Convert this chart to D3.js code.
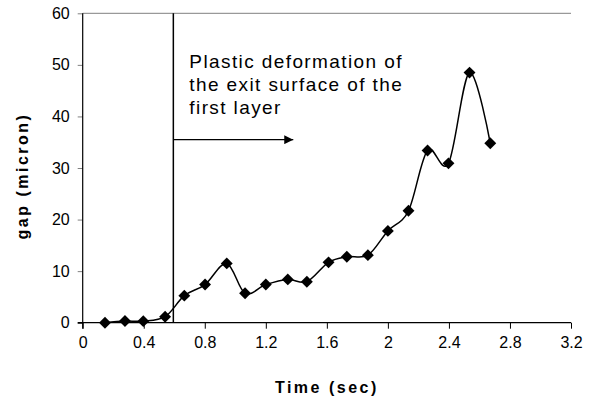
<!DOCTYPE html>
<html>
<head>
<meta charset="utf-8">
<script src="https://cdn.jsdelivr.net/npm/d3@7"></script>
<style>
  html, body { margin: 0; padding: 0; background: #fff; }
  svg { display: block; font-family: Arial, "Liberation Sans", sans-serif; }
</style>
</head>
<body>
<svg id="chart" width="596" height="402"></svg>
<script>
// ---- data ----
const times = [0.146, 0.277, 0.397, 0.540, 0.666, 0.802, 0.944, 1.064, 1.200, 1.344,
               1.469, 1.611, 1.731, 1.869, 2.000, 2.135, 2.260, 2.397, 2.535, 2.671];
const gaps  = [0.0, 0.33, 0.3, 1.16, 5.24, 7.4, 11.5, 5.7, 7.4, 8.4,
               7.95, 11.7, 12.8, 13.1, 17.8, 21.7, 33.4, 30.9, 48.5, 34.8];
const xTicks = [0, 0.4, 0.8, 1.2, 1.6, 2, 2.4, 2.8, 3.2];
const yTicks = [0, 10, 20, 30, 40, 50, 60];
const markerTime = 0.594;
const arrowEndTime = 1.38;
const arrowGap = 35.5;
const annotationLines = ["Plastic deformation of", "the exit surface of the", "first layer"];
const xTitle = "Time (sec)";
const yTitle = "gap (micron)";

// ---- layout ----
const svg = d3.select("#chart");
const x = d3.scaleLinear().domain([0, 3.2]).range([82.7, 571]);
const y = d3.scaleLinear().domain([0, 60]).range([322.7, 13.3]);

// top border (gray)
svg.append("line")
  .attr("x1", x(0)).attr("x2", x(3.2))
  .attr("y1", y(60)).attr("y2", y(60))
  .attr("stroke", "#808080").attr("stroke-width", 1);

// axes
const xAxis = d3.axisBottom(x).tickValues(xTicks).tickSize(6).tickPadding(8)
  .tickFormat(d => String(d));
const yAxis = d3.axisLeft(y).tickValues(yTicks).tickSize(5).tickPadding(8)
  .tickFormat(d => String(d));

const gx = svg.append("g").attr("transform", `translate(0,${y(0)})`).call(xAxis);
const gy = svg.append("g").attr("transform", `translate(${x(0)},0)`).call(yAxis);
[gx, gy].forEach(g => {
  g.select(".domain").remove();
  g.selectAll("line").attr("stroke", "#000");
  g.selectAll("text").attr("fill", "#000").style("font-size", "16px")
    .style("font-family", "Arial, 'Liberation Sans', sans-serif");
});
gy.selectAll("line").attr("stroke", "#808080");
gy.select(".tick:first-of-type line").attr("stroke", "#000");
// axis lines
svg.append("line").attr("x1", x(0) - 5).attr("x2", x(3.2))
  .attr("y1", y(0)).attr("y2", y(0)).attr("stroke", "#000").attr("stroke-width", 1.2);
svg.append("line").attr("x1", x(0)).attr("x2", x(0))
  .attr("y1", y(60)).attr("y2", y(0) + 6).attr("stroke", "#000").attr("stroke-width", 1.2);

// axis titles
svg.append("text")
  .attr("x", (x(0) + x(3.2)) / 2).attr("y", 393)
  .attr("text-anchor", "middle")
  .style("font-size", "16px").style("font-weight", "bold").style("letter-spacing", "2.5px")
  .text(xTitle);
svg.append("text")
  .attr("transform", `translate(28,${(y(0) + y(60)) / 2 + 8}) rotate(-90)`)
  .attr("text-anchor", "middle")
  .style("font-size", "16px").style("font-weight", "bold").style("letter-spacing", "2.5px")
  .text(yTitle);

// vertical marker line
svg.append("line")
  .attr("x1", x(markerTime)).attr("x2", x(markerTime))
  .attr("y1", y(60)).attr("y2", y(0))
  .attr("stroke", "#000").attr("stroke-width", 1.5);

// annotation arrow
const ay = y(arrowGap);
svg.append("defs").append("marker")
  .attr("id", "ah").attr("viewBox", "0 0 10 10").attr("refX", 10).attr("refY", 5)
  .attr("markerWidth", 12).attr("markerHeight", 9).attr("markerUnits", "userSpaceOnUse")
  .attr("orient", "auto")
  .append("path").attr("d", "M0,0 L10,5 L0,10 Z").attr("fill", "#000");
svg.append("line")
  .attr("x1", x(markerTime)).attr("x2", x(arrowEndTime))
  .attr("y1", ay).attr("y2", ay)
  .attr("stroke", "#000").attr("stroke-width", 1.2)
  .attr("marker-end", "url(#ah)");

// annotation text
const at = svg.append("text")
  .attr("x", x(markerTime) + 16).attr("y", 68)
  .style("font-size", "19px").style("letter-spacing", "1.4px");
annotationLines.forEach((t, i) => {
  at.append("tspan").attr("x", x(markerTime) + 16).attr("dy", i === 0 ? 0 : 23).text(t);
});

// data line
const pts = times.map((t, i) => [t, gaps[i]]);
const line = d3.line().x(d => x(d[0])).y(d => y(d[1])).curve(d3.curveCardinal.tension(0));
svg.append("path").datum(pts).attr("d", line)
  .attr("fill", "none").attr("stroke", "#000").attr("stroke-width", 1.5);

// markers
const diamond = d3.symbol().type(d3.symbolDiamond2).size(90);
svg.append("g").selectAll("path").data(pts).join("path")
  .attr("transform", d => `translate(${x(d[0])},${y(d[1])})`)
  .attr("d", diamond).attr("fill", "#000");
</script>
</body>
</html>
